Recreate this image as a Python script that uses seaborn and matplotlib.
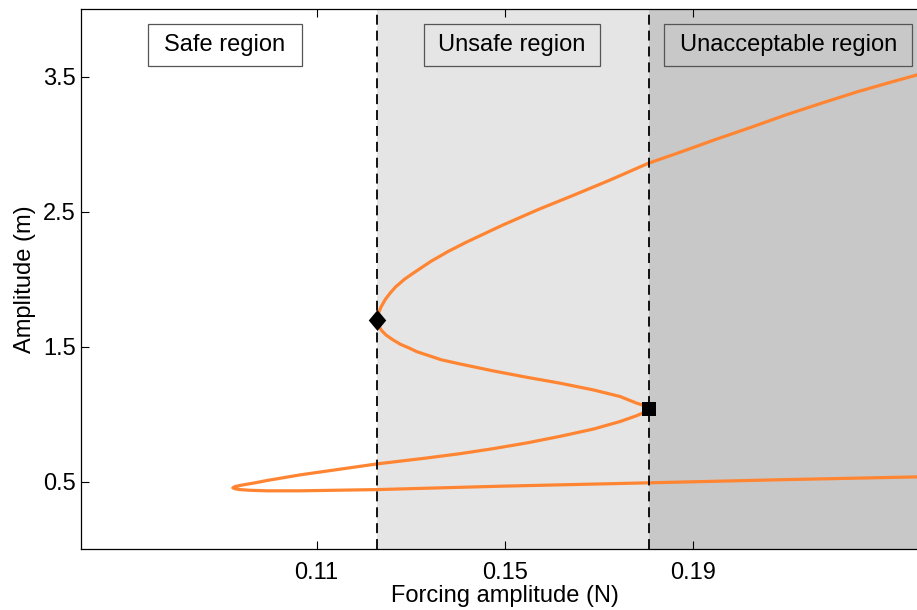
import matplotlib
matplotlib.use("Agg")
import matplotlib.pyplot as plt
from matplotlib.patches import Rectangle
from matplotlib.path import Path
import pandas as pd
import seaborn as sns

# Frequency-response branch, traced in order along the curve:
# lower branch (right -> left), lower fold, middle branch, upper fold, upper branch
forcing = [
    0.2400, 0.2376, 0.2085, 0.1804, 0.1490, 0.1228, 0.1065, 0.0994, 0.0958,
    0.0937, 0.0927, 0.0922, 0.0927, 0.0944, 0.0969, 0.0994, 0.1065, 0.1228,
    0.1334, 0.1405, 0.1475, 0.1546, 0.1617, 0.1688, 0.1745, 0.1780, 0.1797,
    0.1806, 0.1797, 0.1780, 0.1745, 0.1688, 0.1617, 0.1546, 0.1475, 0.1405,
    0.1365, 0.1334, 0.1313, 0.1298, 0.1278, 0.1263, 0.1248, 0.1238, 0.1232,
    0.1229, 0.1231, 0.1237, 0.1246, 0.1257, 0.1268, 0.1287, 0.1306, 0.1343,
    0.1380, 0.1419, 0.1494, 0.1570, 0.1645, 0.1721, 0.1805, 0.1872, 0.1947,
    0.2023, 0.2098, 0.2174, 0.2249, 0.2325, 0.2376, 0.2400,
]
amplitude = [
    0.537, 0.536, 0.515, 0.492, 0.467, 0.442, 0.433, 0.433, 0.437,
    0.442, 0.448, 0.455, 0.465, 0.477, 0.492, 0.509, 0.551, 0.632,
    0.676, 0.708, 0.745, 0.787, 0.836, 0.890, 0.946, 0.989, 1.015,
    1.040, 1.063, 1.082, 1.131, 1.180, 1.230, 1.274, 1.321, 1.372,
    1.403, 1.439, 1.463, 1.488, 1.518, 1.549, 1.585, 1.620, 1.655,
    1.697, 1.745, 1.795, 1.850, 1.900, 1.943, 2.000, 2.046, 2.132,
    2.206, 2.275, 2.398, 2.514, 2.620, 2.730, 2.858, 2.939, 3.033,
    3.124, 3.217, 3.304, 3.387, 3.463, 3.512, 3.535,
]

# Saddle-node (fold) points bounding the regions
fold_upper = (0.1229, 1.697)
fold_lower = (0.1806, 1.040)

x_ticks = [0.11, 0.15, 0.19]
y_ticks = [0.5, 1.5, 2.5, 3.5]
x_limits = (0.06, 0.24)
y_limits = (0.0, 4.0)

region_labels = ["Safe region", "Unsafe region", "Unacceptable region"]
region_colors = ["#ffffff", "#e5e5e5", "#c8c8c8"]

# Label box layout (centre x, width in data units; shared centre y / height)
label_centres = [0.0905, 0.1515, 0.2102]
label_widths = [0.0326, 0.0373, 0.0527]
label_y, label_h = 3.732, 0.31

sns.set_theme(style="ticks")
plt.rcParams["font.family"] = ["Liberation Sans", "DejaVu Sans"]

fig = plt.figure(figsize=(9.17, 6.10), dpi=100)
ax = fig.add_axes([81.3 / 917, (610 - 549.3) / 610, 847.1 / 917, 540.3 / 610])
ax.set_xlim(*x_limits)
ax.set_ylim(*y_limits)

# Shaded stability regions
ax.axvspan(fold_upper[0], fold_lower[0], color=region_colors[1], lw=0, zorder=0)
ax.axvspan(fold_lower[0], x_limits[1], color=region_colors[2], lw=0, zorder=0)

df = pd.DataFrame({"forcing": forcing, "amplitude": amplitude})
sns.lineplot(data=df, x="forcing", y="amplitude", sort=False, estimator=None,
             color="#ff8533", lw=2.3, ax=ax, zorder=2)
ax.lines[-1].set_solid_joinstyle("round")

# Region boundaries at the fold points
for xv in (fold_upper[0], fold_lower[0]):
    ax.axvline(xv, color="black", lw=1.3, dashes=(5.5, 3.3), zorder=3)

diamond = Path([(0, 1), (0.84, 0), (0, -1), (-0.84, 0), (0, 1)],
               [Path.MOVETO, Path.LINETO, Path.LINETO, Path.LINETO, Path.CLOSEPOLY])
sns.scatterplot(x=[fold_upper[0]], y=[fold_upper[1]], marker=diamond, s=225,
                color="black", edgecolor="black", linewidth=0, ax=ax, zorder=5)
sns.scatterplot(x=[fold_lower[0]], y=[fold_lower[1]], marker="s", s=106,
                color="black", edgecolor="black", linewidth=0, ax=ax, zorder=5)

for label, cx, w, fc in zip(region_labels, label_centres, label_widths, region_colors):
    ax.add_patch(Rectangle((cx - w / 2, label_y - label_h / 2), w, label_h,
                           facecolor=fc, edgecolor="#555555", lw=0.9, zorder=4))
    ax.text(cx, label_y, label, ha="center", va="center", fontsize=17,
            color="black", zorder=6)

ax.set_xticks(x_ticks)
ax.set_xticklabels([f"{v:.2f}" for v in x_ticks])
ax.set_yticks(y_ticks)
ax.set_yticklabels([f"{v:.1f}" for v in y_ticks])
ax.tick_params(direction="in", length=5.8, width=0.8, top=True, right=True,
               labelsize=17, colors="black")
ax.tick_params(axis="x", pad=9)
ax.tick_params(axis="y", pad=4)
for sp in ax.spines.values():
    sp.set_color("black")
    sp.set_linewidth(0.9)

ax.set_xlabel("Forcing amplitude (N)", fontsize=17, labelpad=1, color="black")
ax.set_ylabel("Amplitude (m)", fontsize=17, labelpad=5, color="black")

fig.savefig("out.png", dpi=100)
